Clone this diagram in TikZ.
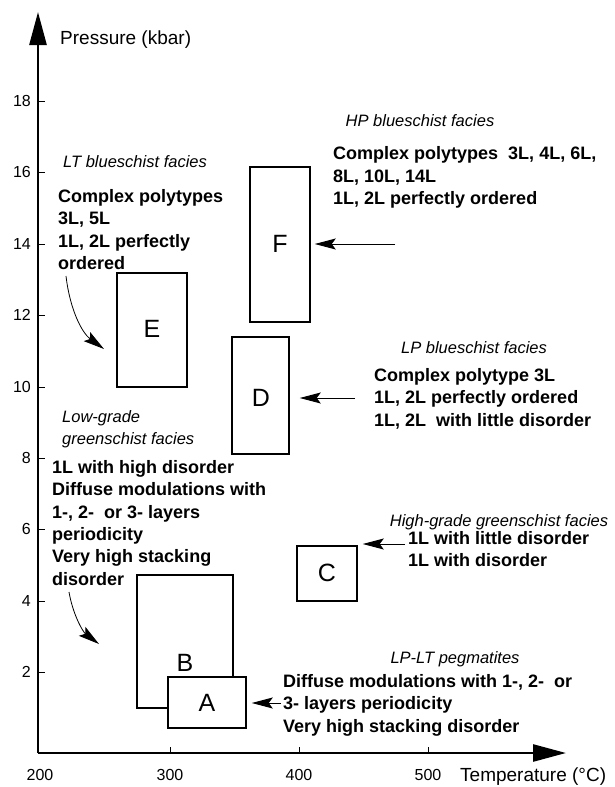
\documentclass[tikz,border=0pt]{standalone}
\usepackage{fontspec}
\setmainfont{Liberation Sans}
\usetikzlibrary{arrows.meta}
\begin{document}
\begin{tikzpicture}[x=1pt,y=-1pt,
  lab/.style={inner sep=0pt, font=\fontsize{16}{18}\selectfont},
  axlab/.style={inner sep=0pt, font=\fontsize{19}{21}\selectfont},
  ital/.style={inner sep=0pt, font=\fontsize{16.5}{21.5}\selectfont\itshape, align=left},
  bld/.style={inner sep=0pt, font=\fontsize{18}{22.3}\selectfont\bfseries, align=left},
  boxf/.style={draw, line width=1.5pt, fill=white, inner sep=0pt},
  letter/.style={inner sep=0pt, font=\fontsize{25}{28}\selectfont},
  ptr/.style={line width=1pt, -{Stealth[length=21pt,width=11pt,inset=4pt]}},
  axisline/.style={line width=2.6pt},
  tick/.style={line width=0.6pt}
]
\useasboundingbox (0,0) rectangle (614,787);
% axes
\coordinate (O) at (38,753);
\coordinate (ytop) at (38,12);
\coordinate (xend) at (566,753);
\draw[axisline, -{Triangle[length=33pt,width=17pt]}] (O) -- (ytop);
\draw[axisline, -{Triangle[length=33pt,width=17pt]}] (O) -- (xend);
\node[axlab, anchor=west] (ylab) at (60,40) {Pressure (kbar)};
\node[axlab, anchor=west] (xlab) at (460,777) {Temperature (°C)};
\foreach \v/\y in {18/101,16/172,14/244,12/315,10/387,8/458,6/529,4/601,2/672}{
  \node[lab, anchor=east] (y\v) at (31,\y) {\v};
  \coordinate (t\v) at (45,\y);
  \draw[tick] (38,\y) -- (t\v);
}
\foreach \v/\x in {200/40,300/170,400/299,500/428}{
  \node[lab] (x\v) at (\x,775) {\v};
}
\foreach \x in {170,299,428}{
  \coordinate (xt\x) at (\x,747);
  \draw[tick] (\x,753) -- (xt\x);
}
% boxes
\node[boxf, minimum width=60pt, minimum height=155pt] (F) at (280,244.5) {};
\node[letter] (Fl) at (280,244) {F};
\node[boxf, minimum width=70pt, minimum height=114pt] (E) at (152,330) {};
\node[letter] (El) at (152,329) {E};
\node[boxf, minimum width=57pt, minimum height=117pt] (D) at (260.5,395.5) {};
\node[letter] (Dl) at (261,398) {D};
\node[boxf, minimum width=60pt, minimum height=55pt] (C) at (327,573.5) {};
\node[letter] (Cl) at (327,573) {C};
\node[boxf, minimum width=96pt, minimum height=133pt] (B) at (185,641.5) {};
\node[letter] (Bl) at (185,663) {B};
\node[boxf, minimum width=78pt, minimum height=51pt] (A) at (207,702.5) {};
\node[letter] (Al) at (207,703) {A};
% texts
\node[ital, anchor=center] (hpT) at (420,121) {HP blueschist facies};
\node[bld, anchor=north west] (hpB) at (333,146.5) {Complex polytypes\ \ 3L, 4L, 6L,\\8L, 10L, 14L\\1L, 2L perfectly ordered};
\node[ital, anchor=west] (ltT) at (63,162) {LT blueschist facies};
\node[bld, anchor=north west] (ltB) at (58,189.4) {Complex polytypes\\3L, 5L\\1L, 2L perfectly\\ordered};
\node[ital, anchor=center] (lpT) at (474,348) {LP blueschist facies};
\node[bld, anchor=north west] (lpB) at (374,368.4) {Complex polytype 3L\\1L, 2L perfectly ordered\\1L, 2L\ \ with little disorder};
\node[ital, anchor=north west] (lgT) at (62,410.8) {Low-grade\\greenschist facies};
\node[bld, anchor=north west] (lgB) at (52,460.4) {1L with high disorder\\Diffuse modulations with\\1-, 2-\ \ or 3- layers\\periodicity\\Very high stacking\\disorder};
\node[ital, anchor=center] (hgT) at (499,522) {High-grade greenschist facies};
\node[bld, anchor=north west] (hgB) at (408,531.4) {1L with little disorder\\1L with disorder};
\node[ital, anchor=center] (pgT) at (455,659) {LP-LT pegmatites};
\node[bld, anchor=north west] (pgB) at (283,674.4) {Diffuse modulations with 1-, 2-\ \ or\\3- layers periodicity\\Very high stacking disorder};
% arrows
\coordinate (fa) at (395,244);
\draw[ptr] (fa) -- ([xshift=4pt]F.east |- fa);
\coordinate (da) at (355,398);
\draw[ptr] (da) -- ([xshift=10pt]D.east |- da);
\coordinate (ca) at (405,544);
\draw[ptr] (ca) -- ([xshift=5pt]C.east |- ca);
\coordinate (aa) at (281,703);
\draw[ptr] (aa) -- ([xshift=5pt]A.east |- aa);
\coordinate (e1) at (66,276);
\coordinate (e2) at (104,349);
\draw[ptr, line width=0.8pt] (e1) .. controls (70,310) and (82,333) .. (e2);
\coordinate (b1) at (69,592);
\coordinate (b2) at (99,644);
\draw[ptr, line width=0.8pt] (b1) .. controls (73,615) and (83,632) .. (b2);
\end{tikzpicture}
\end{document}
